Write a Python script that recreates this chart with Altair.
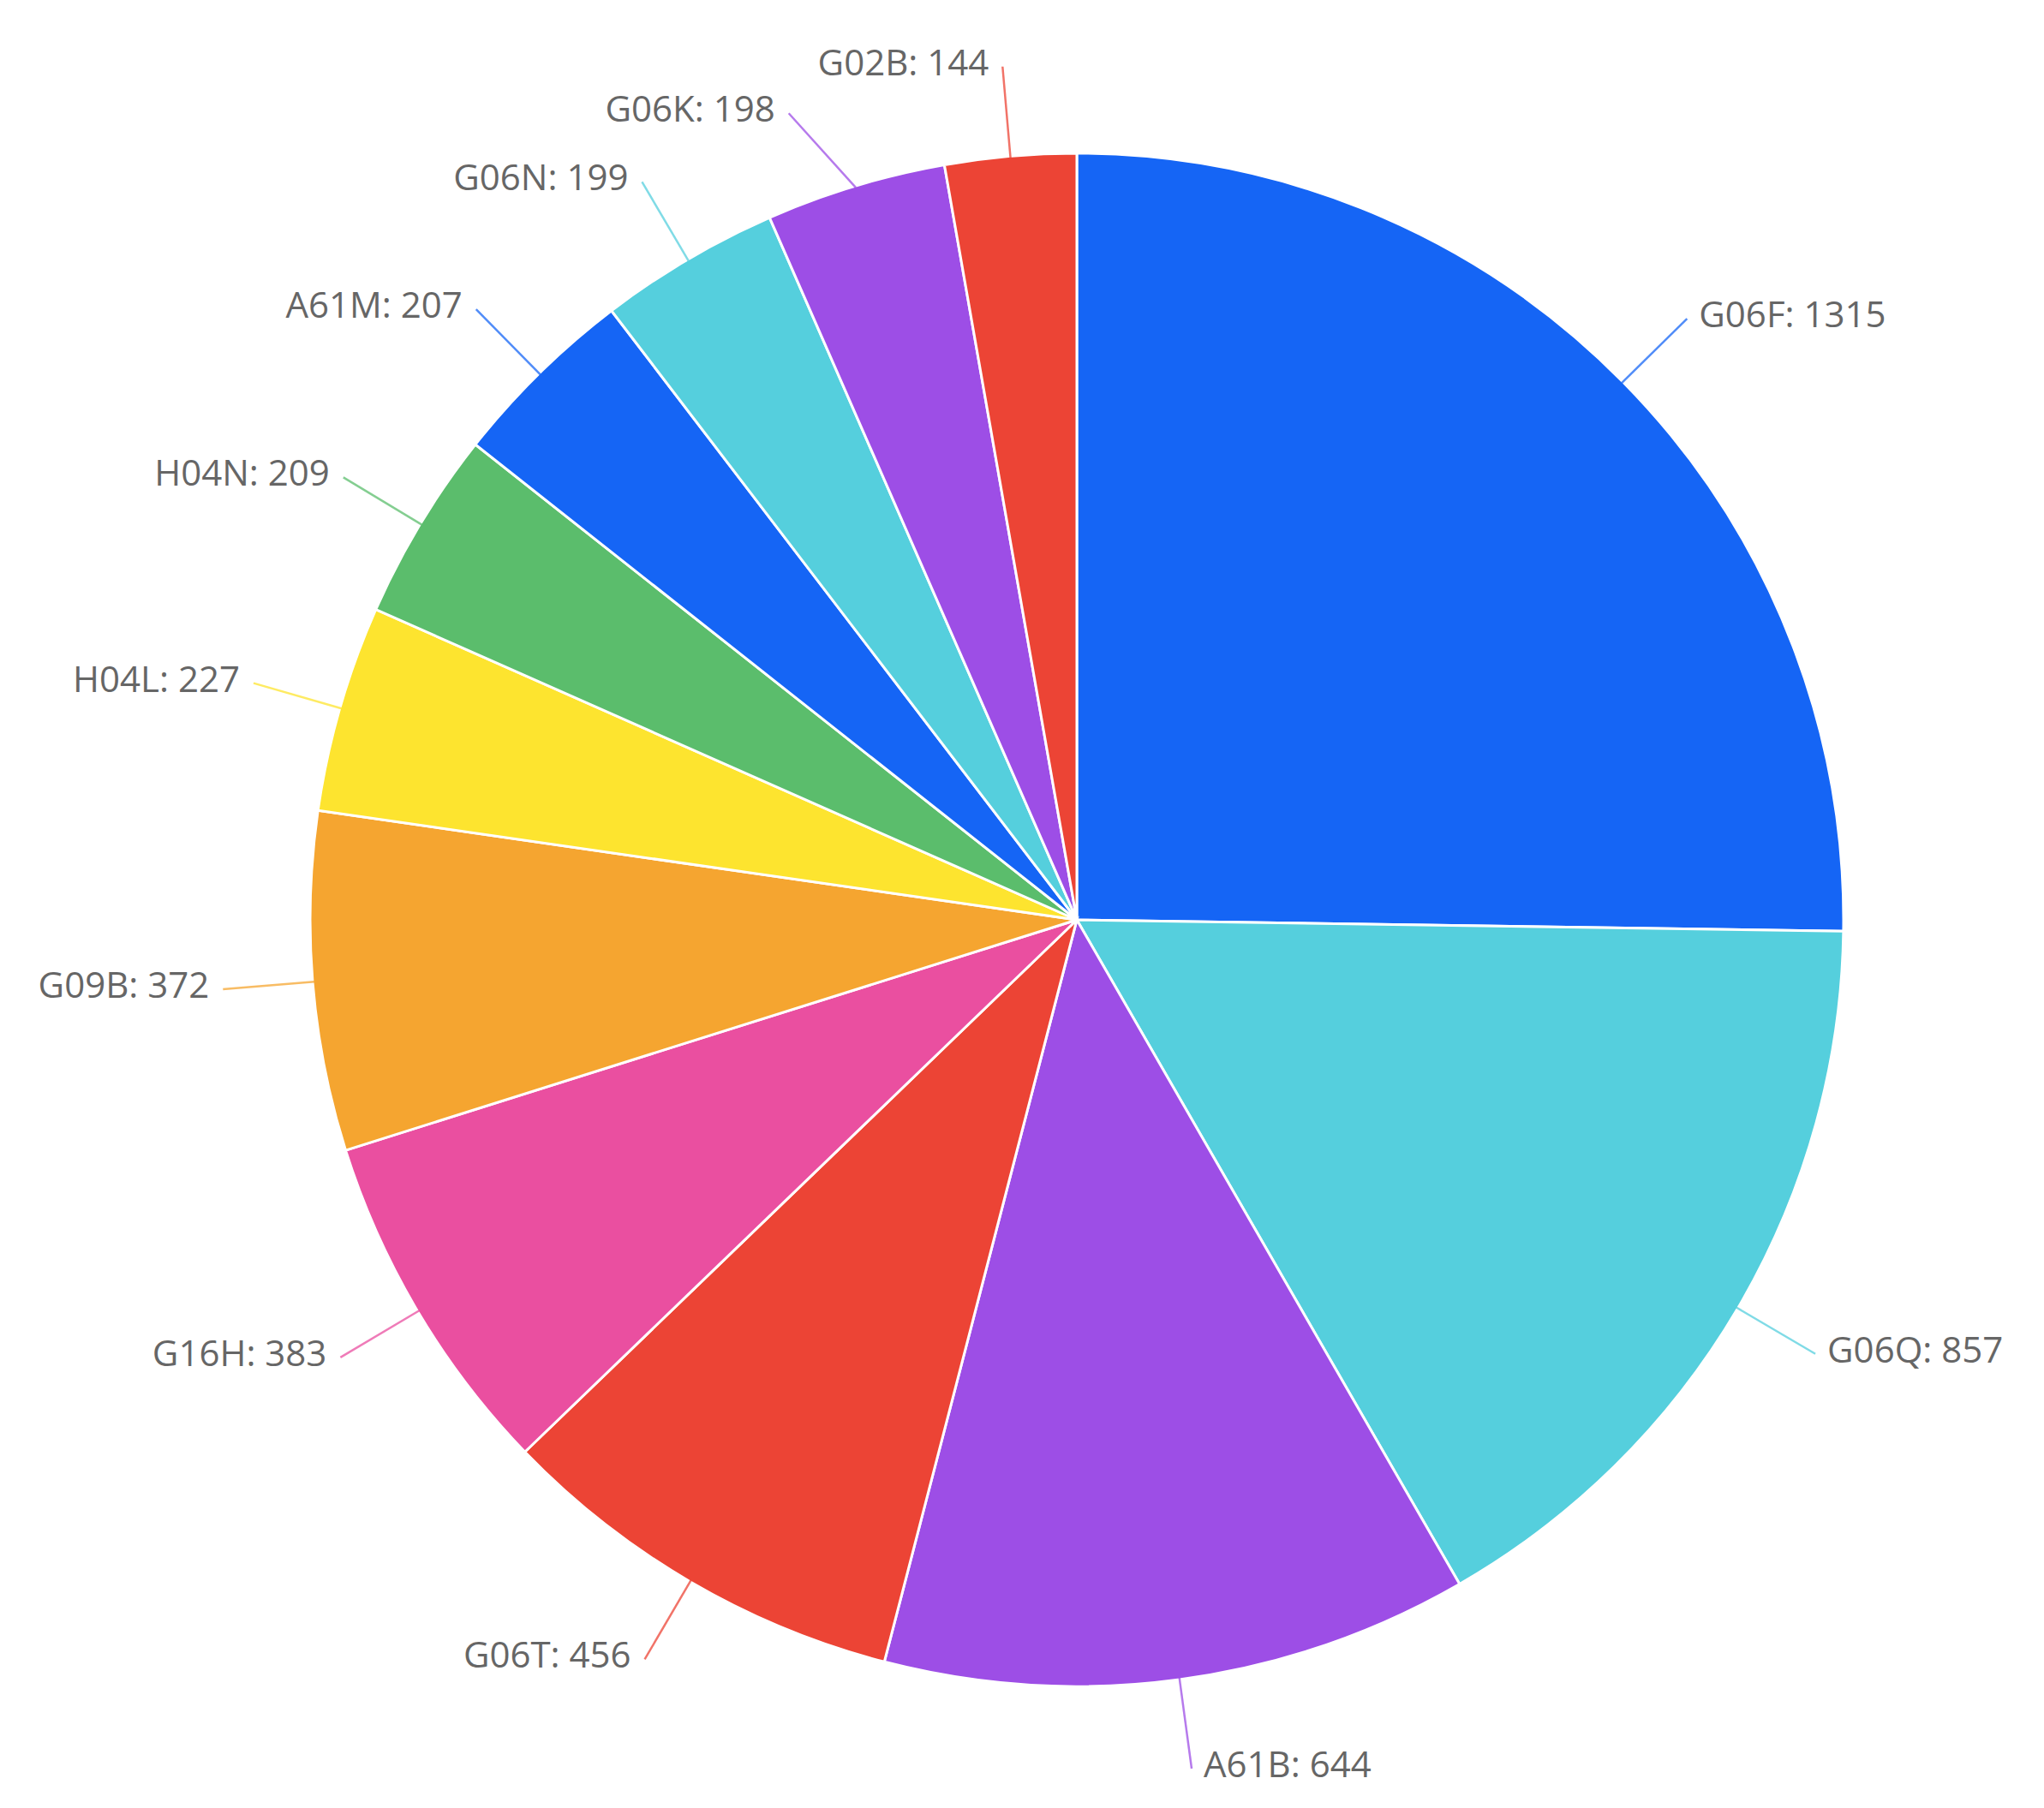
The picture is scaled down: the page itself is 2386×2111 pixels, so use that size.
import altair as alt
import pandas as pd

categories = ["G06F", "G06Q", "A61B", "G06T", "G16H", "G09B",
              "H04L", "H04N", "A61M", "G06N", "G06K", "G02B"]
values = [1315, 857, 644, 456, 383, 372, 227, 209, 207, 199, 198, 144]
colors = ["#1565f5", "#55cfdd", "#9d4ee6", "#ec4435", "#ea4fa0", "#f5a530",
          "#fde42f", "#5bbd6c", "#1565f5", "#55cfdd", "#9d4ee6", "#ec4435"]

df = pd.DataFrame({"cat": categories, "val": values, "idx": list(range(len(values)))})

W, H = 2370, 2095
CX, CY = 1249, 1066
R_PIE = 895
R_LBL = 1000

xscale = alt.Scale(domain=[-CX, W - CX], range=[0, W])
yscale = alt.Scale(domain=[-(H - CY), CY], range=[H, 0])
color = alt.Color("cat:N", scale=alt.Scale(domain=categories, range=colors), legend=None)

# label angle: radial, with a small nudge where labels would collide (as the original layout did)
base = alt.Chart(df).transform_joinaggregate(
    total="sum(val)"
).transform_window(
    cum="sum(val)", sort=[alt.SortField("idx")]
).transform_calculate(
    mid="(datum.cum - datum.val/2) / datum.total * 2 * PI",
    label="datum.cat + ': ' + datum.val"
).transform_calculate(
    lmid="datum.cat == 'G06K' ? datum.mid - 0.05 : datum.mid"
)

arcs = alt.Chart(df).mark_arc(outerRadius=R_PIE, stroke="white", strokeWidth=3).encode(
    theta=alt.Theta("val:Q", stack=True),
    order=alt.Order("idx:Q"),
    color=color,
    x=alt.datum(0, scale=xscale, axis=None),
    y=alt.datum(0, scale=yscale, axis=None),
)

lines = base.transform_calculate(
    r0=str(R_PIE - 2), r1=str(R_LBL)
).transform_fold(["r0", "r1"], as_=["which", "rad"]).transform_calculate(
    ang="datum.which == 'r0' ? datum.mid : datum.lmid"
).transform_calculate(
    px="sin(datum.ang) * datum.rad",
    py="cos(datum.ang) * datum.rad",
).mark_line(strokeWidth=2.5, opacity=0.75).encode(
    x=alt.X("px:Q", scale=xscale, axis=None),
    y=alt.Y("py:Q", scale=yscale, axis=None),
    detail="cat:N",
    order="which:N",
    color=color,
)

pts = base.transform_calculate(
    px="sin(datum.lmid) * " + str(R_LBL),
    py="cos(datum.lmid) * " + str(R_LBL),
)

txt_right = pts.transform_filter("datum.mid < PI").mark_text(
    align="left", baseline="middle", dx=14, dy=-3, font="Open Sans", fontSize=42, color="#666666"
).encode(
    x=alt.X("px:Q", scale=xscale, axis=None),
    y=alt.Y("py:Q", scale=yscale, axis=None),
    text="label:N",
)

txt_left = pts.transform_filter("datum.mid >= PI").mark_text(
    align="right", baseline="middle", dx=-16, dy=-3, font="Open Sans", fontSize=42, color="#666666"
).encode(
    x=alt.X("px:Q", scale=xscale, axis=None),
    y=alt.Y("py:Q", scale=yscale, axis=None),
    text="label:N",
)

chart = alt.layer(arcs, lines, txt_right, txt_left).properties(
    width=W, height=H, autosize=alt.AutoSizeParams(type="none"), padding=0,
    background="white"
).configure_view(strokeWidth=0, stroke="transparent")

chart.save("out.html", embed_options={"renderer": "svg", "actions": False})
